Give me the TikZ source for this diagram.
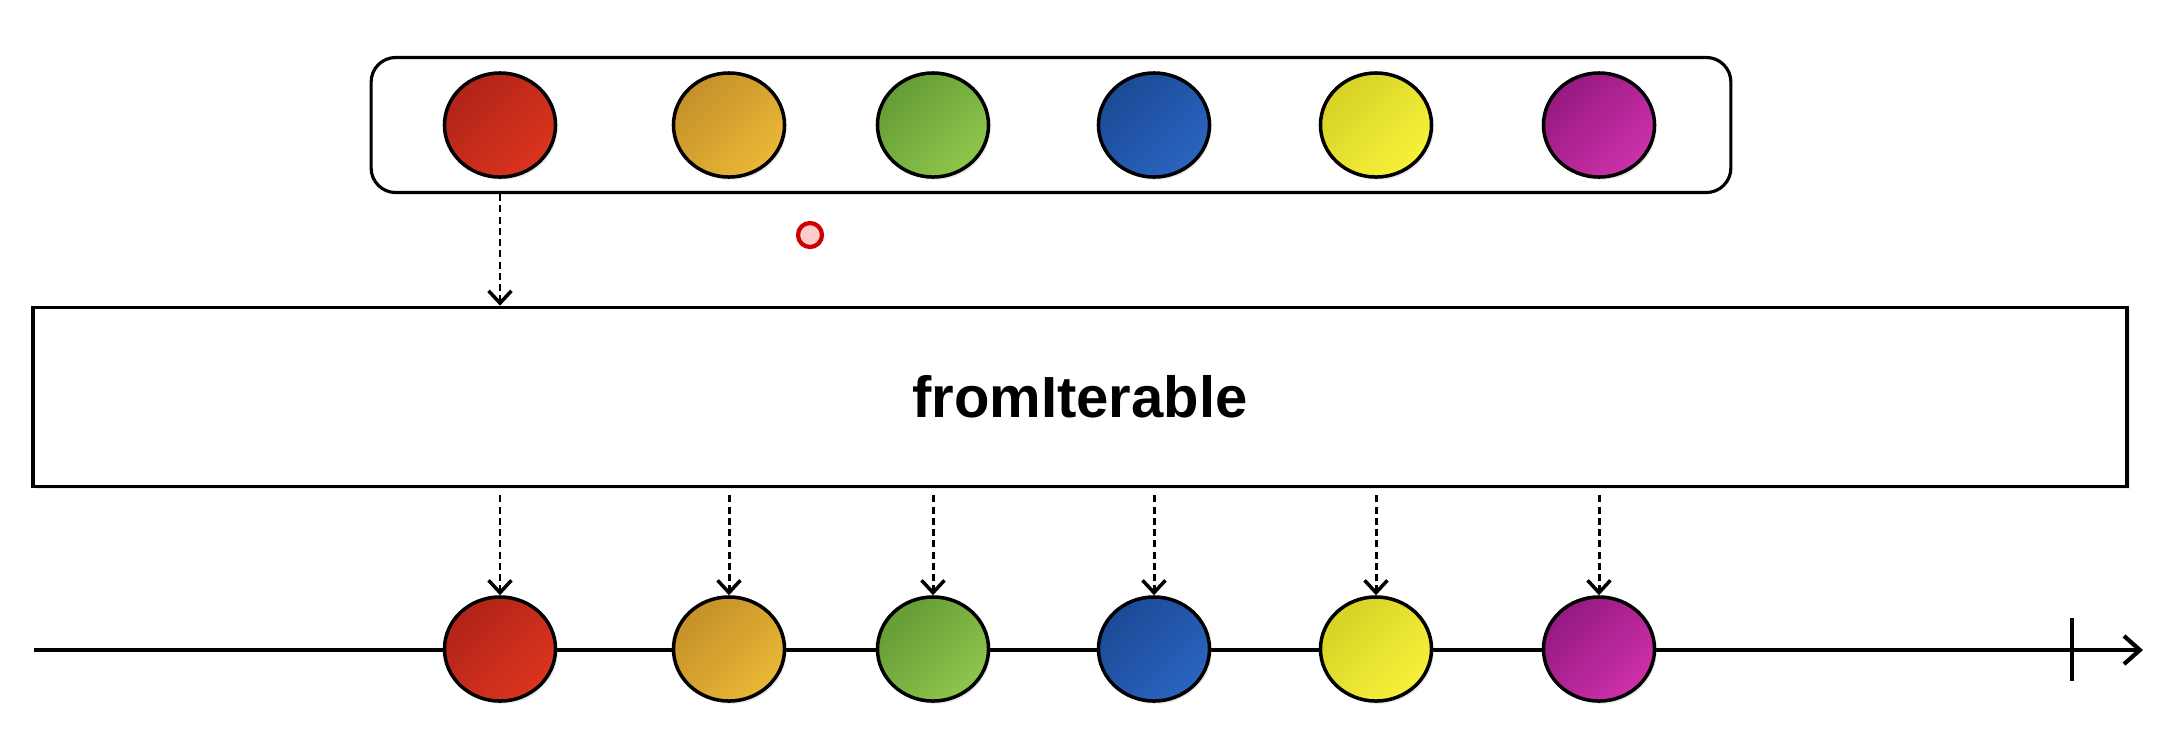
\documentclass[tikz,border=0pt]{standalone}
\usepackage{fontspec}
\setmainfont{Liberation Sans}
\usepackage{xcolor}
\usepackage{tikz}
\usetikzlibrary{arrows.meta, positioning, shapes.geometric, shadows}
\definecolor{mbred}{RGB}{220, 52, 30}
\definecolor{mbreddk}{RGB}{176, 36, 24}
\definecolor{mborange}{RGB}{234, 184, 54}
\definecolor{mborangedk}{RGB}{196, 144, 42}
\definecolor{mbgreen}{RGB}{142, 198, 76}
\definecolor{mbgreendk}{RGB}{100, 156, 54}
\definecolor{mbblue}{RGB}{42, 100, 192}
\definecolor{mbbluedk}{RGB}{28, 74, 150}
\definecolor{mbyellow}{RGB}{246, 242, 58}
\definecolor{mbyellowdk}{RGB}{214, 210, 38}
\definecolor{mbmagenta}{RGB}{206, 48, 170}
\definecolor{mbmagentadk}{RGB}{148, 26, 128}

\begin{document}
\begin{tikzpicture}[
    x=0.01cm, y=-0.01cm,
    ball/.style={ellipse, draw=black, line width=1pt, inner sep=0pt,
                 minimum width=1.11cm, minimum height=1.04cm,
                 drop shadow={opacity=0.18, shadow xshift=0.6pt, shadow yshift=-0.8pt}},
    holder/.style={draw, fill=white, rounded corners=7pt, line width=0.9pt,
                   minimum width=13.59cm, minimum height=1.35cm},
    opbox/.style={draw, fill=white, line width=1pt, minimum width=20.93cm, minimum height=1.79cm,
                  font=\bfseries\fontsize{16.5}{20}\selectfont,
                  drop shadow={opacity=0.15, shadow xshift=0.8pt, shadow yshift=-0.8pt}},
    darr/.style={-{Straight Barb[length=3.5pt, width=6.5pt, line width=1pt]}, line width=0.85pt,
                 dash pattern=on 2pt off 1.2pt},
    tline/.style={line width=1pt},
    cursor/.style={circle, draw=red!80!black, line width=1.2pt, fill=white,
                   inner sep=0pt, minimum size=2.4mm},
  ]
    \useasboundingbox (0,0) rectangle (2178,732);

    % source list
    \node[holder] (src) at (1051,125) {};
    \foreach \n/\x/\c in {1/500/mbred, 2/729/mborange, 3/933/mbgreen,
                          4/1154/mbblue, 5/1376/mbyellow, 6/1599/mbmagenta}
      \node[ball, top color=\c dk, bottom color=\c, shading angle=45] (in-\n) at (\x,125) {};

    \node[cursor, fill=red!20] (pointer) at (810,235) {};

    % operator
    \node[opbox] (op) at (1080,397) {fromIterable};
    \draw[darr] (src.south -| in-1) -- (op.north -| in-1);

    % output timeline
    \coordinate (tl-start) at (34,650);
    \coordinate (tl-end) at (2143,650);
    \coordinate (tick-top) at (2072,618);
    \coordinate (tick-bot) at (2072,681);
    \draw[tline, -{Straight Barb[length=4.5pt, width=8pt, line width=1.2pt]}] (tl-start) -- (tl-end);
    \draw[tline] (tick-top) -- (tick-bot);

    \foreach \n/\x/\c in {1/500/mbred, 2/729/mborange, 3/933/mbgreen,
                          4/1154/mbblue, 5/1376/mbyellow, 6/1599/mbmagenta}
    {
      \node[ball, top color=\c dk, bottom color=\c, shading angle=45] (out-\n) at (\x,649) {};
      \draw[darr, shorten <=2pt] (op.south -| out-\n) -- (out-\n.north);
    }
\end{tikzpicture}
\end{document}
